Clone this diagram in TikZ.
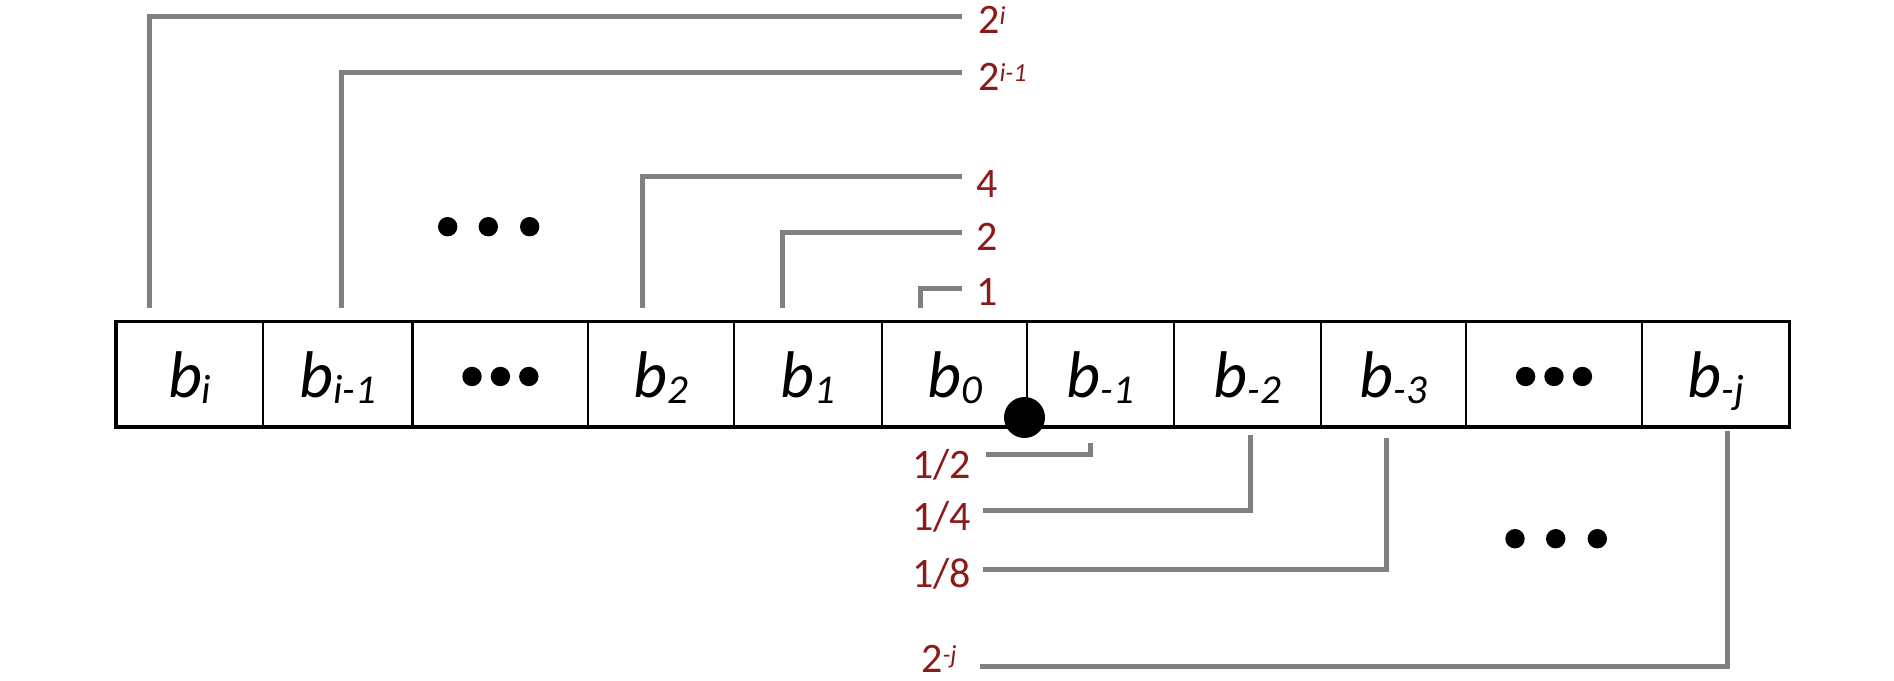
\documentclass[tikz,border=0pt]{standalone}
\usepackage{fontspec}
\setmainfont{Carlito}
\definecolor{lblred}{RGB}{140,26,26}
\definecolor{conngray}{RGB}{128,128,128}
\newcommand\bitsub[1]{\raisebox{-5.7pt}{\fontsize{41}{41}\selectfont #1}}
\newcommand\lblsup[1]{\raisebox{8.3pt}{\fontsize{26}{26}\selectfont\itshape #1}}
\begin{document}
\begin{tikzpicture}[x=1pt,y=-1pt,
  conn/.style={draw=conngray,line width=5pt,line join=miter},
  cellline/.style={line width=2.3pt},
  bit/.style={anchor=base,inner sep=0pt,font=\fontsize{66}{66}\selectfont\itshape},
  lblw/.style={anchor=base west,inner sep=0pt,text=lblred,font=\fontsize{42}{42}\selectfont},
  lble/.style={anchor=base east,inner sep=0pt,text=lblred,font=\fontsize{42}{42}\selectfont},
  smalldot/.style={circle,fill=black,draw=none,minimum size=19.4pt,inner sep=0pt},
  bigdot/.style={circle,fill=black,draw=none,minimum size=41pt,inner sep=0pt}]
\useasboundingbox (0,0) rectangle (1894,680);

% register
\draw[line width=3.3pt] (116,321.7) rectangle (1789.3,427);
\foreach \x in {263.3,412.5,588.3,734.3,881.7,1027.3,1174,1320.7,1465.7,1642.3}
  \draw[cellline] (\x,321.7) -- (\x,427);

% bit labels
\node[bit] (bi)  at (189.7,397.3) {b\bitsub{i}};
\node[bit] (bim) at (337.9,397.3) {b\bitsub{i-1}};
\node[bit] (b2)  at (661.3,397.3) {b\bitsub{2}};
\node[bit] (b1)  at (808,397.3) {b\bitsub{1}};
\node[bit] (b0)  at (954.5,397.3) {b\bitsub{0}};
\node[bit] (bm1) at (1100.6,397.3) {b\bitsub{-1}};
\node[bit] (bm2) at (1247.4,397.3) {b\bitsub{-2}};
\node[bit] (bm3) at (1393.4,397.3) {b\bitsub{-3}};
\node[bit] (bmj) at (1715.8,397.3) {b\bitsub{-j}};

% ellipsis dots in cells
\foreach \i/\x in {1/472,2/500.4,3/528.8}
  \node[smalldot] (cda\i) at (\x,376.5) {};
\foreach \i/\x in {1/1525.6,2/1554,3/1582.4}
  \node[smalldot] (cdb\i) at (\x,376.5) {};
% free ellipsis dots
\foreach \i/\x in {1/447.7,2/488.3,3/529.7}
  \node[smalldot] (uda\i) at (\x,226.7) {};
\foreach \i/\x in {1/1515,2/1555.7,3/1597.3}
  \node[smalldot] (ldb\i) at (\x,538.7) {};

% binary point
\node[bigdot] (bp) at (1024.5,417.5) {};

% weight labels (upper)
\node[lblw] (w2i)  at (978,33)    {2\lblsup{i}};
\node[lblw] (w2im) at (978,90)    {2\lblsup{i-1}};
\node[lblw] (w4)   at (976,197.7) {4};
\node[lblw] (w2)   at (976,250)   {2};
\node[lblw] (w1)   at (976,305)   {1};
% weight labels (lower)
\node[lble] (wh)  at (971,478.3) {1/2};
\node[lble] (wq)  at (971,530)   {1/4};
\node[lble] (we)  at (971,587)   {1/8};
\node[lblw] (w2j) at (921,672)   {2\lblsup{-j}};

% connector end points
\coordinate (s2i)  at (149.3,308);  \coordinate (e2i)  at (962,16.3);
\coordinate (s2im) at (341.7,308);  \coordinate (e2im) at (962,72);
\coordinate (s4)   at (642.7,308);  \coordinate (e4)   at (962,176);
\coordinate (s2)   at (782.7,308);  \coordinate (e2)   at (962,232.3);
\coordinate (s1)   at (920.7,308);  \coordinate (e1)   at (962,288.3);
\coordinate (sh)   at (1090,443.3); \coordinate (eh)   at (986,454);
\coordinate (sq)   at (1250,435);   \coordinate (eq)   at (983,510);
\coordinate (se)   at (1386,437.7); \coordinate (ee)   at (983,569.3);
\coordinate (sj)   at (1727.3,430.7); \coordinate (ej) at (980,666);

% connectors
\draw[conn] (s2i) |- (e2i);
\draw[conn] (s2im) |- (e2im);
\draw[conn] (s4) |- (e4);
\draw[conn] (s2) |- (e2);
\draw[conn] (s1) |- (e1);
\draw[conn] (sh) |- (eh);
\draw[conn] (sq) |- (eq);
\draw[conn] (se) |- (ee);
\draw[conn] (sj) |- (ej);
\end{tikzpicture}
\end{document}
